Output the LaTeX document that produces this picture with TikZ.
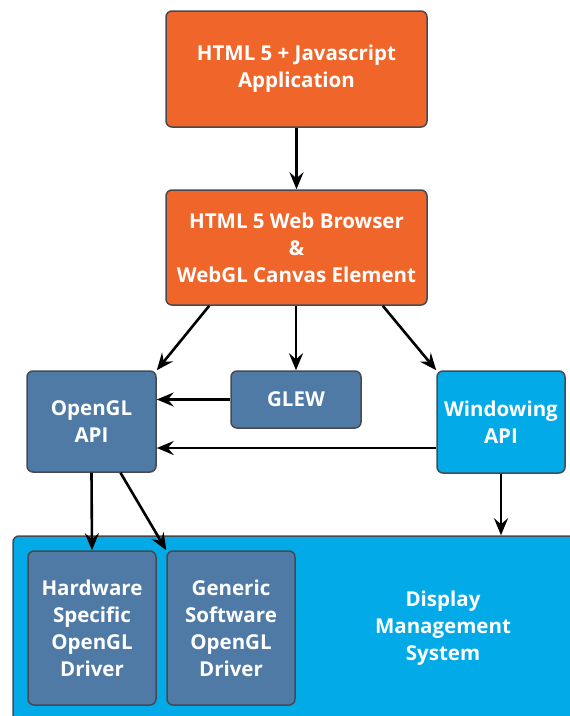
\documentclass[tikz,border=0pt]{standalone}
\usepackage{fontspec}
\setmainfont{Open Sans}
\usepackage{xcolor}
\usetikzlibrary{positioning, calc, arrows.meta}

\definecolor{apporange}{RGB}{240,101,42}
\definecolor{glblue}{RGB}{79,122,166}
\definecolor{sysblue}{RGB}{2,170,232}
\definecolor{edgegray}{RGB}{70,74,80}

\tikzset{
    layer/.style={draw=edgegray, line width=1.5pt, rounded corners=6pt,
        text=white, font=\fontsize{20.5}{27}\selectfont\bfseries, align=center,
        inner sep=0pt},
    orangebox/.style={layer, fill=apporange},
    glbox/.style={layer, fill=glblue},
    sysbox/.style={layer, fill=sysblue},
    arr/.style={-{Stealth[length=17pt,width=14pt,inset=6pt]}, line width=2.6pt}
}

\begin{document}
\begin{tikzpicture}[x=1pt, y=-1pt]
        \clip (0,0) rectangle (570,716);
        \fill[white] (0,0) rectangle (570,716);

        % Application and browser layers
        \node[orangebox, minimum width=261pt, minimum height=116pt] (app) at (296.5,69) {HTML 5 + Javascript\\Application};
        \node[orangebox, minimum width=261pt, minimum height=115pt] (browser) at (296.5,247.5) {HTML 5 Web Browser\\\&\\WebGL Canvas Element};

        % API layer
        \node[glbox, minimum width=129pt, minimum height=101pt] (opengl) at (91.5,421.5) {OpenGL\\API};
        \node[glbox, minimum width=130pt, minimum height=57pt] (glew) at (296,399.5) {GLEW};
        \node[sysbox, minimum width=128pt, minimum height=102pt] (windowing) at (501,422) {Windowing\\API};

        % Display management system with the two drivers inside
        \node[sysbox, minimum width=590pt, minimum height=210pt] (dms) at (308,641) {};
        \node[layer, draw=none] (dmslabel) at (443,628) {Display\\Management\\System};
        \node[glbox, minimum width=128pt, minimum height=154pt] (hwdriver) at (92,628) {Hardware\\Specific\\OpenGL\\Driver};
        \node[glbox, minimum width=128pt, minimum height=154pt] (swdriver) at (231,628) {Generic\\Software\\OpenGL\\Driver};

        % Connections
        \coordinate (winout) at ([yshift=-26pt]windowing.west);
        \draw[arr] (app.south) -- (browser.north);
        \draw[arr] ([xshift=44pt]browser.south west) -- (opengl.north east);
        \draw[arr] (browser.south -| glew.north) -- (glew.north);
        \draw[arr] ([xshift=-45pt]browser.south east) -- (windowing.north west);
        \draw[arr] (glew.west) -- (opengl.east |- glew.west);
        \draw[arr] (winout) -- (opengl.east |- winout);
        \draw[arr] (opengl.south) -- (hwdriver.north);
        \draw[arr] ([xshift=29pt]opengl.south) -- (swdriver.north west);
        \draw[arr] (windowing.south) -- (windowing.south |- dms.north);

    \end{tikzpicture}
\end{document}
